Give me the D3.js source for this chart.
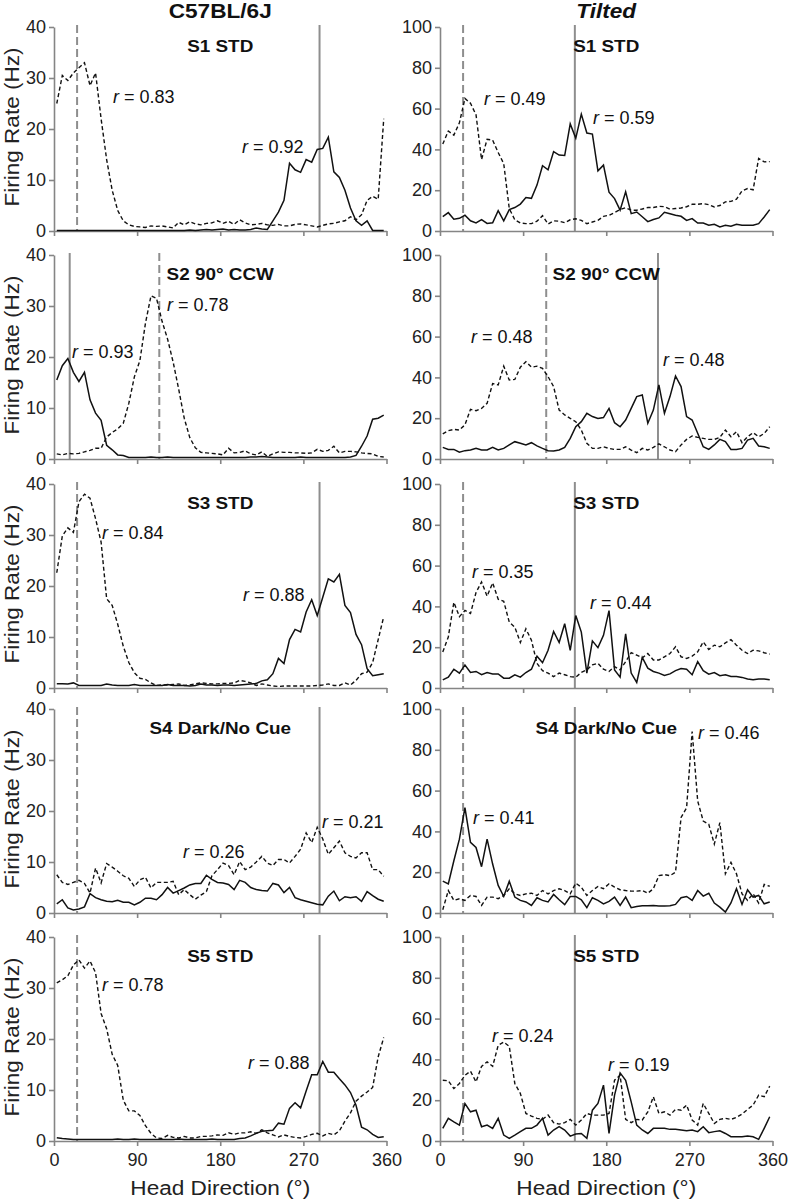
<!DOCTYPE html>
<html><head><meta charset="utf-8">
<script src="https://cdn.jsdelivr.net/npm/d3@7"></script>
<style>body{margin:0;background:#fff;} svg{display:block;}</style>
</head><body>
<svg id="chart" width="788" height="1200"></svg>
<script>
// ---------------- DATA ----------------
const angles = d3.range(60).map(i => 3 + 6 * i); // 6° bin centres
const xTicks = [0, 90, 180, 270, 360];
const c57Ticks = [0, 10, 20, 30, 40];
const tiltTicks = [0, 20, 40, 60, 80, 100];
const sessions = ["S1 STD", "S2 90° CCW", "S3 STD", "S4 Dark/No Cue", "S5 STD"];
const groups = ["C57BL/6J", "Tilted"];

const c57_s1_solid = [0.1,0.1,0.1,0.1,0.1,0.1,0.1,0.1,0.1,0.1, 0.1,0.1,0.1,0.1,0.1,0.1,0.1,0.1,0.1,0.1, 0.1,0.1,0.1,0.1,0.2,0.1,0.2,0.3,0.2,0.3, 0.4,0.2,0.3,0.2,0.2,0.3,0.6,0.4,0.3,2.0, 3.7,6.0,13.3,12.0,11.5,14.0,13.5,16.0,16.2,18.4, 11.6,10.5,8.0,4.5,2.0,1.1,2.0,0.1,0.1,0.1];
const c57_s1_dashed = [25,30.5,29.5,31,32,33,28.5,31,22,14, 8,4,2,1.2,0.9,0.8,0.7,1,0.9,1, 0.8,0.6,1.7,1.2,1.8,1.4,1.2,1.5,1.6,2.0, 1.5,1.9,1.3,2.2,1.6,1.2,1.3,1.5,1.2,1.1, 1.3,1.0,1.0,1.3,1.4,1.2,1.0,0.8,1.1,1.4, 1.5,1.8,2.0,2.8,2.2,3.2,6.0,6.8,6.2,22];
const c57_s2_solid = [15.5,18.3,19.7,17,15.2,17,11.6,9,7.6,2.7, 1.8,0.8,0.7,0.3,0.3,0.3,0.3,0.4,0.3,0.3, 0.4,0.3,0.3,0.3,0.3,0.3,0.3,0.3,0.3,0.3, 0.3,0.3,0.3,0.3,0.3,0.4,0.4,0.5,0.4,0.3, 0.3,0.3,0.3,0.3,0.4,0.3,0.3,0.3,0.3,0.3, 0.3,0.3,0.3,0.4,0.7,2.5,4.5,7.8,8.0,8.6];
const c57_s2_dashed = [1.0,0.8,1.1,1.0,1.1,1.4,1.7,2.1,2.1,4.3, 5.2,5.9,7.0,10.9,16.1,19.3,26.6,32,31.5,27.0, 23.5,19.0,13.7,8.0,4.2,2.2,1.3,1.2,1.1,1.0, 0.8,2.1,1.2,1.3,1.6,1.0,0.8,1.4,0.5,1.0, 1.4,1.3,1.3,1.2,1.2,1.1,1.2,1.9,1.5,1.7, 2.5,1.2,1.5,1.5,1.4,1.2,1.1,1.0,0.5,0.4];
const c57_s3_solid = [0.85,0.85,0.8,1.0,0.5,0.5,0.5,0.5,0.5,0.8, 0.6,0.5,0.5,0.5,0.7,0.5,0.5,0.5,0.5,0.5, 0.7,0.5,0.5,0.5,0.4,0.5,0.8,0.6,0.6,0.5, 0.6,0.6,0.5,0.6,0.7,0.8,0.9,1.4,1.6,2.8, 5.8,4.8,9.5,11.5,11,14.9,17.3,14.2,17.8,21.4, 20.8,22.3,16.2,14.8,10.5,8.5,3.8,2.4,2.6,2.8];
const c57_s3_dashed = [22.6,29.8,31.4,30.5,36.5,38,37.2,33.2,28.6,17.5, 16.2,12.5,8.2,5,3,1.9,1.7,1.0,0.5,0.6, 0.6,0.7,0.8,0.5,0.6,0.8,1.0,0.9,0.8,0.8, 0.9,0.9,1.0,1.5,1.3,1.0,0.5,0.8,0.6,0.4, 0.3,0.4,0.4,0.4,0.4,0.4,0.4,0.5,0.6,0.8, 0.5,0.5,1.0,0.6,1.5,2.8,3.1,5,9.5,14];
const c57_s4_solid = [1.8,2.6,1.0,0.6,0.8,1.2,3.8,3.0,2.6,2.3, 2.2,2.5,2.1,2.1,1.6,2.1,2.9,2.9,2.6,3.6, 5.0,3.9,4.4,4.9,5.5,5.8,5.8,7.4,6.6,6.0, 5.9,5.6,4.6,6.4,6.0,5.0,4.6,4.4,4.3,5.8, 5.5,4.0,5.0,3.0,2.6,2.3,2.0,1.7,1.6,3.3, 4.3,2.4,3.2,3.0,3.2,2.3,4.2,3.4,2.7,2.3];
const c57_s4_dashed = [7.5,6.0,5.6,6.0,6.4,5.8,3.9,8.8,5.9,9.7, 9.0,8.2,7.3,6.8,5.2,6.5,7.0,4.9,6.0,6.0, 6.0,6.2,3.6,4.6,3.6,2.7,3.5,4.2,7.3,8.5, 9.8,9.3,7.5,10.1,8.5,9.0,10.0,11.1,9.8,9.3, 10.5,10.5,9.8,11.1,12.5,15.7,13.8,16.8,14.5,11.5, 12.8,14.1,11.8,11.1,10.8,11.8,11.8,8.5,8.5,7.2];
const c57_s5_solid = [0.65,0.5,0.4,0.3,0.3,0.3,0.3,0.3,0.3,0.3, 0.3,0.4,0.3,0.3,0.4,0.3,0.3,0.3,0.3,0.3, 0.3,0.3,0.4,0.3,0.3,0.3,0.3,0.3,0.4,0.3, 0.3,0.3,0.3,0.5,0.6,1.0,1.5,1.9,2.0,2.1, 3.5,3.3,6.4,7.5,6.5,9.8,13,13,15.6,13.5, 13.5,12.2,11,9.5,7,2.7,2.2,1.3,0.7,0.85];
const c57_s5_dashed = [31,31.6,32.4,34.5,35.5,33.9,35.3,33,25,22, 17,14.8,8,5.9,5.9,5.0,3,1.5,0.6,0.5, 1.1,0.7,0.6,0.9,0.6,0.6,0.9,0.9,1.0,1.2, 1.1,1.6,1.3,1.6,1.6,1.8,1.5,2.2,1.6,1.2, 0.8,1.2,0.9,0.7,0.6,0.9,1.3,1.5,1.0,1.5, 1.2,2.0,3.9,5.5,7.8,8.8,9.6,10.5,16.5,20.3];

const tilt_s1_solid = [7,9.0,5.8,6.2,7.7,5.0,4.0,5.6,3.7,4.0, 10,5.0,10.5,11.5,13.2,16.4,16,22.5,32,30, 38.9,37.2,37,52.5,45.5,57.3,48,47.5,29.5,32.3, 19,15.9,10.2,19.2,8.5,9.3,7,4.6,5.6,6.4, 9.2,8.5,7.7,7.2,5.2,6.1,3.9,3.9,2.8,3.3, 2.0,2.8,2.3,3.3,2.8,2.8,2.8,3.6,6.9,10.5];
const tilt_s1_dashed = [42.6,49,47,53,65,62.6,57,35,45,44.5, 38.5,33,11,5.5,3.9,3.6,3.6,4.8,7.5,3.4, 5.0,4.8,4.1,5.5,6.0,5.2,3.6,4.4,5.2,7.2, 7.7,9,10.5,11.4,10.2,10.2,10.8,11.5,11.5,12.1, 11.9,10.7,11,11.3,11.9,13.1,13.1,13.4,12.9,11.8, 12.5,14.3,14.5,15.6,19.7,20.8,20.2,35.6,33.9,34];
const tilt_s2_solid = [5.7,4.7,4.7,3.3,4.1,4.4,5.2,4.4,4.4,5.7, 4.4,5.2,6.9,8.5,7.7,6.9,8.0,6.4,5.2,4.1, 3.9,4.4,5.7,10.1,15.8,18.3,22.4,20.8,19.9,20.3, 24.8,17.8,15.8,19.1,24.8,30.6,31.4,17.5,24,36.3, 22.4,30.6,40.7,35.5,20.8,19.1,12.6,6.0,4.7,6.9, 9.6,8.5,4.7,4.7,5.2,9.3,10.1,6.4,6.0,5.2];
const tilt_s2_dashed = [12.3,13.9,14.5,14.2,16.7,24.3,23.7,24.8,27.3,37, 36.3,45.5,38.7,39,45,47.7,45,45.5,44.4,40.4, 35.5,24,21.6,19.9,18.3,14.2,7.7,5.2,5.2,6.0, 5.2,4.7,4.7,6.0,4.4,3.1,5.2,4.4,5.7,7.4, 6,4.4,3.6,6.9,9.6,11.3,10.6,10.1,9.6,9.6, 10.6,14.2,10.9,13.4,8.0,10.9,12.9,10.9,12.5,15.8];
const tilt_s3_solid = [4,5.3,9.2,7.3,11.3,7.6,8.1,6.5,7.6,6.9, 6.9,4.8,4.8,6.5,5.3,7.6,9.2,15.6,12.4,18.5, 27.7,22.3,31.5,18.5,35.5,27.4,7.3,23.1,19.8,25.8, 37.9,8.9,5.3,26.6,7.3,2.7,15,9.7,8.1,7.3, 6.1,6.9,8.5,9.5,9.2,6.5,12.9,8.5,6.8,7.6, 6.0,6.5,5.6,5.6,5.2,4.4,4.0,4.4,4.4,4.0];
const tilt_s3_dashed = [17.7,25,42,35,38,36.5,46.8,52,45,51.5, 43.5,42.5,32.3,29.8,22.3,29,23.4,12.1,8.5,7.3, 5.6,7.3,6.5,5.6,5.3,7.6,8.9,11.3,12.1,9.2, 8.1,10.5,8.9,12.9,17.3,16.1,14.8,16.9,13.7,13.7, 15.3,16.9,20.2,15.3,14.5,15.6,17.7,22.6,18.9,21, 20.2,22.1,23.7,21,18.5,16.9,18.5,18.2,17.3,16.6];
const tilt_s4_solid = [15.6,14.3,25.6,36.2,51.6,34.6,32.1,22.7,36.2,24, 13.5,8.1,15.6,7.8,6.2,5.4,3.7,7.5,6.2,5.4, 9.1,6.5,4.1,8.1,8.1,6.5,2.6,7.5,6.2,4.5, 5.7,7.8,3.7,7.8,2.6,3.2,3.6,3.6,3.7,3.4, 3.4,3.6,4.2,7.5,8.1,6.2,11,8.3,9.7,4.9, 2.9,0.5,4.9,11.9,4.2,11.4,7.8,8.6,4.5,5.4];
const tilt_s4_dashed = [1.6,11,6.2,7,6.2,8.6,8.1,3.7,7.8,7.8, 7,8.6,11.9,9.4,8.6,9.4,9.7,8.6,11,9.4, 11,11.9,11,9.4,14.6,12.7,8.6,11,13,11.9, 14.3,12.7,11.4,11,10.7,10.7,11,9.7,11.9,18.3, 18.8,18.3,20,46.8,51.6,89,54.9,45.1,43.5,33.8, 44.3,19.2,24.8,19.2,9.4,6.2,9.4,4.9,14,13.1];
const tilt_s5_solid = [6.2,11.1,9.4,7.8,18.4,14.3,15.1,7,7.8,6.2, 11.1,2.9,1.3,2.9,4.6,6.2,6.2,7.8,11.1,2.9, 5.4,7,5.4,2.4,3.4,3.7,1.3,15.1,18.4,27.4, 3.7,22.5,33.4,29.8,19.2,7.8,5.4,3.7,6.2,6.2, 6.2,5.7,5.7,5.4,5,5.4,4.6,7,4.1,4.6, 5,3.7,2.1,2.1,2.1,2.4,2.1,0.8,6.2,11.9];
const tilt_s5_dashed = [29.8,29.5,25.7,28.2,32.2,34.2,29,36.6,38.8,36.6, 46.9,48.5,46.4,28.2,23.3,13.5,12.2,11.1,10.6,12.7, 9,8.3,9,10.6,7.8,10.3,13.5,12.7,12.7,12.7, 13.5,29.8,32.2,10.6,9,10.6,10.3,14.3,21.7,13.5, 14.3,12.7,15.5,15.1,17.6,10.3,7.8,18.4,13.5,8.6, 10.6,11.1,10.6,11.6,13.2,15.5,17.6,22.5,21.7,26.9];

// reference directions (degrees)
const c57RefDashed = [25, 114, 25, 25, 25];
const c57RefSolid = [287.5, 17, 287.5, 287.5, 287.5];
const tiltRefDashed = [25, 115, 25, 25, 25];
const tiltRefSolid = [146, 236, 146, 146, 146];

// correlation labels
const c57R = [["0.83", "0.92"], ["0.78", "0.93"], ["0.84", "0.88"], ["0.26", "0.21"], ["0.78", "0.88"]];
const tiltR = [["0.49", "0.59"], ["0.48", "0.48"], ["0.35", "0.44"], ["0.41", "0.46"], ["0.24", "0.19"]];

// ---------------- LAYOUT ----------------
const FONT = "'Liberation Sans', Arial, Helvetica, sans-serif";
const rowTops = [27, 255, 484, 709, 937];
const panelH = 204;
const cols = [
  { x0: 54, x1: 386.5, ticks: c57Ticks, yMax: 40, title: groups[0], italic: false,
    solid: [c57_s1_solid, c57_s2_solid, c57_s3_solid, c57_s4_solid, c57_s5_solid],
    dashed: [c57_s1_dashed, c57_s2_dashed, c57_s3_dashed, c57_s4_dashed, c57_s5_dashed],
    refD: c57RefDashed, refS: c57RefSolid, r: c57R,
    rPos: [[[59, 76], [188, 126]], [[113, 56], [18, 103]], [[48, 55], [189, 117]], [[129, 149], [268, 119]], [[48, 54], [194, 132]]],
    ylabel: true },
  { x0: 440, x1: 772.5, ticks: tiltTicks, yMax: 100, title: groups[1], italic: true,
    solid: [tilt_s1_solid, tilt_s2_solid, tilt_s3_solid, tilt_s4_solid, tilt_s5_solid],
    dashed: [tilt_s1_dashed, tilt_s2_dashed, tilt_s3_dashed, tilt_s4_dashed, tilt_s5_dashed],
    refD: tiltRefDashed, refS: tiltRefSolid, r: tiltR,
    rPos: [[[44, 78], [153, 97]], [[31, 88], [223, 111]], [[32, 94], [150, 125]], [[33, 115], [258, 30]], [[52, 105], [168, 134]]],
    ylabel: false }
];

const svg = d3.select("#chart").style("font-family", FONT);

function stretch(t, f) {
  const L = t.node().getComputedTextLength();
  t.attr("textLength", L * f).attr("lengthAdjust", "spacingAndGlyphs");
  return t;
}

const AX = "#858585", REF = "#8e8e8e";

cols.forEach((c, ci) => {
  const x = d3.scaleLinear().domain([0, 360]).range([c.x0, c.x1]);
  // column title
  const tt = svg.append("text").attr("x", (c.x0 + c.x1) / 2).attr("y", 18)
    .attr("text-anchor", "middle").attr("font-size", 19.5).attr("font-weight", "bold")
    .attr("font-style", c.italic ? "italic" : "normal").attr("fill", "#111").text(c.title);
  stretch(tt, 1.16);

  rowTops.forEach((top, ri) => {
    const y = d3.scaleLinear().domain([0, c.yMax]).range([top + panelH, top]);
    const g = svg.append("g");

    // reference lines
    g.append("line").attr("x1", x(c.refD[ri])).attr("x2", x(c.refD[ri]))
      .attr("y1", top - 2).attr("y2", y(0)).attr("stroke", REF).attr("stroke-width", 2)
      .attr("stroke-dasharray", "8,4");
    g.append("line").attr("x1", x(c.refS[ri])).attr("x2", x(c.refS[ri]))
      .attr("y1", top - 2).attr("y2", y(0)).attr("stroke", REF).attr("stroke-width", 2);

    // axes
    const ya = g.append("g").attr("transform", `translate(${c.x0},0)`)
      .call(d3.axisLeft(y).tickValues(c.ticks).tickSize(5).tickSizeOuter(0).tickPadding(3));
    const xa = g.append("g").attr("transform", `translate(0,${y(0)})`)
      .call(d3.axisBottom(x).tickValues(xTicks).tickSize(5).tickSizeOuter(0).tickPadding(7)
        .tickFormat(ri === 4 ? d3.format("d") : () => ""));
    [ya, xa].forEach(a => {
      a.select(".domain").attr("stroke", AX).attr("stroke-width", 1.6);
      a.selectAll(".tick line").attr("stroke", AX).attr("stroke-width", 1.6);
      a.selectAll(".tick text").attr("font-size", 18).attr("font-family", FONT).attr("fill", "#222");
    });

    // data lines
    const line = d3.line().x((d, i) => x(angles[i])).y(d => y(d));
    g.append("path").datum(c.dashed[ri]).attr("d", line).attr("fill", "none")
      .attr("stroke", "#111").attr("stroke-width", 1.4).attr("stroke-dasharray", "4,2.6");
    g.append("path").datum(c.solid[ri]).attr("d", line).attr("fill", "none")
      .attr("stroke", "#111").attr("stroke-width", 1.5);

    // panel title
    const pt = g.append("text").attr("x", (c.x0 + c.x1) / 2).attr("y", top + 25)
      .attr("text-anchor", "middle").attr("font-size", 16).attr("font-weight", "bold")
      .attr("fill", "#111").text(sessions[ri]);
    stretch(pt, 1.18);

    // r labels
    c.r[ri].forEach((rv, k) => {
      const p = c.rPos[ri][k];
      const t = g.append("text").attr("x", c.x0 + p[0]).attr("y", top + p[1])
        .attr("font-size", 18).attr("fill", "#111");
      t.append("tspan").attr("font-style", "italic").text("r");
      t.append("tspan").text(" = " + rv);
    });

    // y label
    if (c.ylabel) {
      const cy = top + panelH / 2 - 2;
      const yl = g.append("text").attr("transform", `translate(18.5,${cy}) rotate(-90)`)
        .attr("text-anchor", "middle").attr("font-size", 20.5).attr("fill", "#222")
        .text("Firing Rate (Hz)");
      stretch(yl, 1.1);
    }
  });

  // x label
  const xl = svg.append("text").attr("x", (c.x0 + c.x1) / 2).attr("y", 1195)
    .attr("text-anchor", "middle").attr("font-size", 20).attr("fill", "#222")
    .text("Head Direction (°)");
  stretch(xl, 1.13);
});
</script>
</body></html>
